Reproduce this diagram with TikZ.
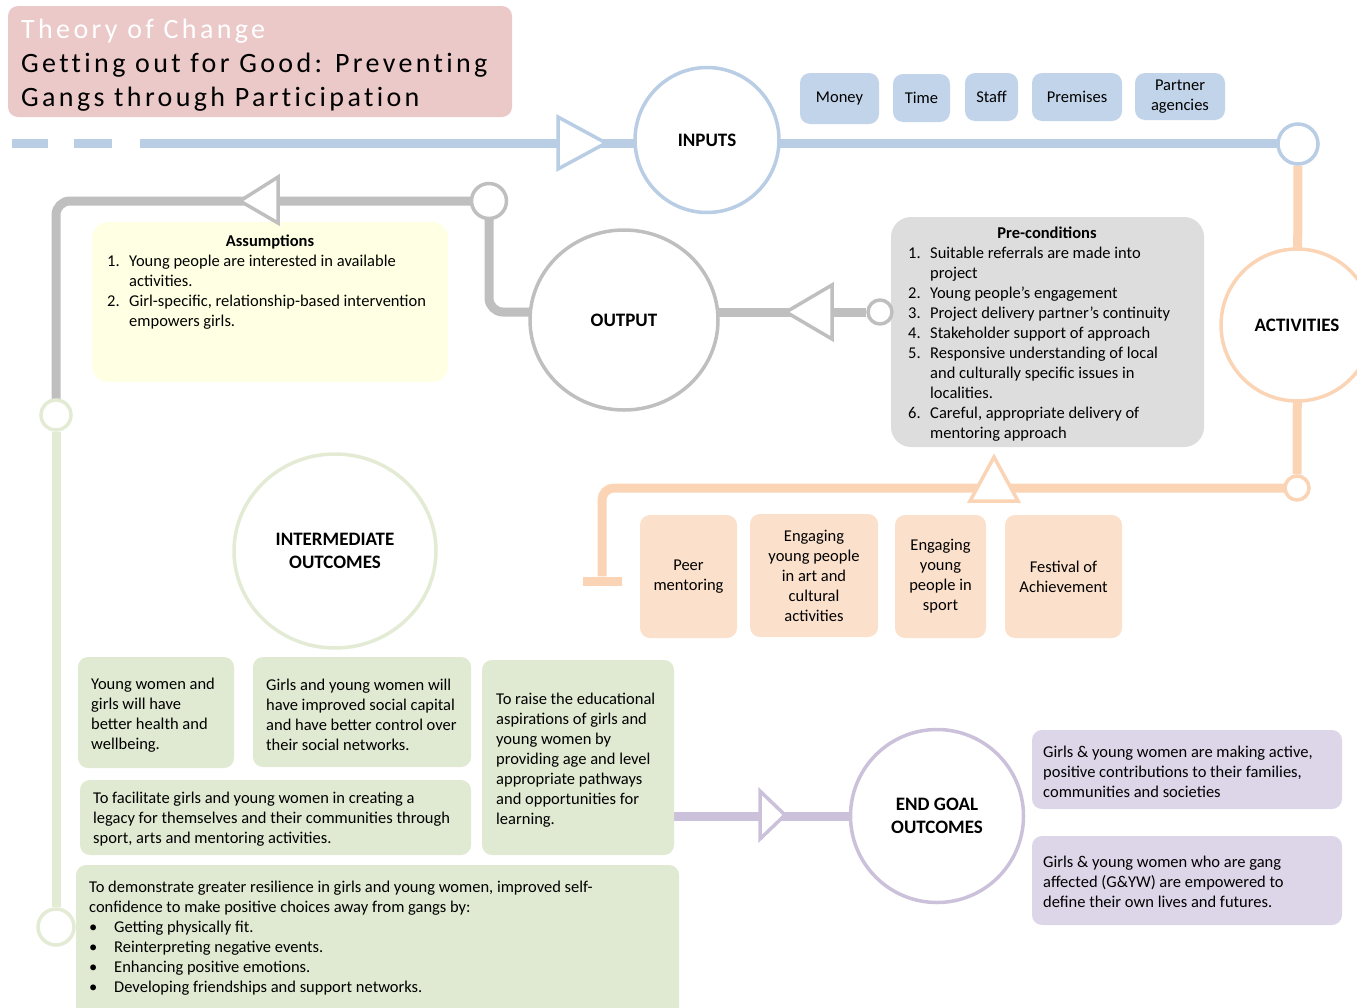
\documentclass[tikz,border=0pt]{standalone}
\usepackage{fontspec}
\setmainfont{Carlito}
\newfontfamily\titlefont[LetterSpace=12, Ligatures=NoCommon]{Carlito}
\usetikzlibrary{shapes.geometric}
\pgfdeclarelayer{background}
\pgfsetlayers{background,main}

\definecolor{tocpink}{HTML}{ECC9C9}
\definecolor{inblue}{HTML}{B9CDE5}
\definecolor{inboxblue}{HTML}{C2D4EA}
\definecolor{outgray}{HTML}{BFBFBF}
\definecolor{pregray}{HTML}{DDDDDD}
\definecolor{assumeyel}{HTML}{FFFFE3}
\definecolor{actpeach}{HTML}{FAD4B4}
\definecolor{actbox}{HTML}{FBE0CB}
\definecolor{midgreen}{HTML}{E3EBD5}
\definecolor{midbox}{HTML}{E0E9D1}
\definecolor{endpurple}{HTML}{CCC1DA}
\definecolor{endbox}{HTML}{DDD5E8}

\newcommand\itm[1]{\makebox[22pt][l]{#1}}
\newcommand\cont{\hspace*{22pt}}
\newcommand\bul{\makebox[25pt][l]{\textbullet}}

\tikzset{
  flow/.style={line width=9pt},
  ring/.style={ellipse, draw, line width=3.5pt, fill=white, inner sep=0pt,
    font=\fontsize{19}{23}\selectfont\bfseries, align=center},
  dot/.style={circle, draw, line width=3.5pt, fill=white, inner sep=0pt},
  arrowtri/.style={line width=3.5pt, fill=white, line join=miter},
  card/.style={rounded corners=10pt, inner sep=0pt, align=center,
    font=\fontsize{16.5}{20}\selectfont},
  body/.style={inner sep=0pt, align=left, font=\fontsize{16.5}{20}\selectfont},
}

\begin{document}
\begin{tikzpicture}[x=1pt,y=-1pt]
\useasboundingbox (0,0) rectangle (1357,1007);

% ---- title ----
\node[fill=tocpink, rounded corners=10pt, minimum width=504, minimum height=111, inner sep=0pt] (title) at (260,61.5) {};
\node[inner sep=0pt, align=left, anchor=west, font=\titlefont\fontsize{28}{34}\selectfont] (titletext) at (21,65)
  {\textcolor{white}{Theory of Change}\\Getting out for Good: Preventing\\Gangs through Participation};

% ---- inputs ----
\node[ring, draw=inblue, minimum width=144, minimum height=145] (inputs) at (707,140) {INPUTS};
\node[dot, draw=inblue, minimum size=40] (inR) at (1298,144) {};
\node[card, fill=inboxblue, minimum width=79, minimum height=51] (money) at (839.5,98.5) {Money};
\node[card, fill=inboxblue, minimum width=57, minimum height=48] (time) at (921.5,98) {Time};
\node[card, fill=inboxblue, minimum width=53, minimum height=48] (staff) at (991.5,97) {Staff};
\node[card, fill=inboxblue, minimum width=90, minimum height=48] (premises) at (1077,97) {Premises};
\node[card, fill=inboxblue, minimum width=90, minimum height=47] (partner) at (1180,96.5) {Partner\\agencies};
\coordinate (seg1a) at (12,143);  \coordinate (seg1b) at (48,143);
\coordinate (seg2a) at (74,143);  \coordinate (seg2b) at (112,143);
\coordinate (seg3a) at (140,143);

% ---- activities ----
\node[ring, draw=actpeach, minimum width=152, minimum height=152] (activities) at (1297,325) {ACTIVITIES};
\node[dot, draw=actpeach, minimum size=24] (actdot) at (1297,488) {};
\node[fill=actpeach, minimum width=39, minimum height=9, inner sep=0pt] (actbar) at (602,581) {};
\node[card, fill=actbox, minimum width=97, minimum height=123] (peer) at (688.5,576.5) {Peer\\mentoring};
\node[card, fill=actbox, minimum width=128, minimum height=123] (art) at (814,575.5) {Engaging\\young people\\in art and\\cultural\\activities};
\node[card, fill=actbox, minimum width=91, minimum height=123] (sport) at (940.5,576.5) {Engaging\\young\\people in\\sport};
\node[card, fill=actbox, minimum width=117, minimum height=123] (festival) at (1063.5,576.5) {Festival of\\Achievement};

% ---- pre-conditions ----
\node[card, fill=pregray, rounded corners=20pt, minimum width=313, minimum height=230] (precond) at (1047.5,332) {};
\node[body, font=\fontsize{16.5}{20}\selectfont\bfseries] (pretitle) at (1047,233) {Pre-conditions};
\node[body, anchor=west] (prelist) at (908,344)
  {\itm{1.}Suitable referrals are made into\\
   \cont project\\
   \itm{2.}Young people’s engagement\\
   \itm{3.}Project delivery partner’s continuity\\
   \itm{4.}Stakeholder support of approach\\
   \itm{5.}Responsive understanding of local\\
   \cont and culturally specific issues in\\
   \cont localities.\\
   \itm{6.}Careful, appropriate delivery of\\
   \cont mentoring approach};

% ---- output ----
\node[ring, draw=outgray, minimum width=188, minimum height=180] (output) at (624,320) {OUTPUT};
\node[dot, draw=outgray, minimum size=24] (outdot) at (880,312) {};
\node[dot, draw=outgray, minimum size=35] (asmdot) at (489,201) {};

% ---- assumptions ----
\node[card, fill=assumeyel, rounded corners=16pt, minimum width=356, minimum height=160] (assume) at (270,302) {};
\node[body, font=\fontsize{16.5}{20}\selectfont\bfseries] (asmtitle) at (270,242) {Assumptions};
\node[body, anchor=west] (asmlist) at (107,292)
  {\itm{1.}Young people are interested in available\\
   \cont activities.\\
   \itm{2.}Girl-specific, relationship-based intervention\\
   \cont empowers girls.};

% ---- intermediate outcomes ----
\node[dot, draw=midgreen, minimum size=30] (midtop) at (56,415) {};
\node[dot, draw=midgreen, minimum size=36] (midbot) at (56,927) {};
\node[ring, draw=midgreen, minimum width=202, minimum height=194] (intermediate) at (335,551) {INTERMEDIATE\\OUTCOMES};
\node[card, fill=midbox, minimum width=156, minimum height=111] (midA) at (156,712.5) {};
\node[body, anchor=west] (midAtext) at (91,715)
  {Young women and\\girls will have\\better health and\\wellbeing.};
\node[card, fill=midbox, minimum width=218, minimum height=110] (midB) at (362,712) {};
\node[body, anchor=west] (midBtext) at (266,715)
  {Girls and young women will\\have improved social capital\\and have better control over\\their social networks.};
\node[card, fill=midbox, minimum width=192, minimum height=195] (midC) at (578,757.5) {};
\node[body, anchor=west] (midCtext) at (496,760)
  {To raise the educational\\aspirations of girls and\\young women by\\providing age and level\\appropriate pathways\\and opportunities for\\learning.};
\node[card, fill=midbox, minimum width=391, minimum height=75] (midD) at (275.5,817.5) {};
\node[body, anchor=west] (midDtext) at (93,819)
  {To facilitate girls and young women in creating a\\legacy for themselves and their communities through\\sport, arts and mentoring activities.};
\node[card, fill=midbox, minimum width=603, minimum height=165] (midE) at (377.5,947.5) {};
\node[body, anchor=west] (midEtext) at (89,938)
  {To demonstrate greater resilience in girls and young women, improved self-\\
   confidence to make positive choices away from gangs by:\\
   \bul Getting physically fit.\\
   \bul Reinterpreting negative events.\\
   \bul Enhancing positive emotions.\\
   \bul Developing friendships and support networks.};

% ---- end goal outcomes ----
\node[ring, draw=endpurple, minimum width=173, minimum height=173] (endgoal) at (937,816) {END GOAL\\OUTCOMES};
\node[card, fill=endbox, minimum width=310, minimum height=79] (endA) at (1187,769.5) {};
\node[body, anchor=west] (endAtext) at (1043,772)
  {Girls \& young women are making active,\\positive contributions to their families,\\communities and societies};
\node[card, fill=endbox, minimum width=310, minimum height=89] (endB) at (1187,880.5) {};
\node[body, anchor=west] (endBtext) at (1043,882)
  {Girls \& young women who are gang\\affected (G\&YW) are empowered to\\define their own lives and futures.};

% ---- connectors ----
\begin{pgfonlayer}{background}
  \draw[flow, inblue] (seg1a) -- (seg1b);
  \draw[flow, inblue] (seg2a) -- (seg2b);
  \draw[flow, inblue] (seg3a) -- (inputs.center |- seg3a) -- (inR.center |- seg3a);
  \draw[flow, actpeach] (inR) -- (actdot);
  \draw[flow, actpeach, rounded corners=12pt] (actdot.center) -- (actbar.center |- actdot.center) -- (actbar.north);
  \draw[flow, outgray] (outdot) -- (output.center |- outdot);
  \draw[flow, outgray, rounded corners=14pt] (output.center |- outdot) -- (asmdot.center |- outdot) -- (asmdot.center);
  \draw[flow, outgray, rounded corners=14pt] (asmdot.center) -- (midtop.center |- asmdot.center) -- (midtop.center);
  \draw[flow, midgreen] (midtop) -- (midbot);
  \draw[flow, endpurple] (midC.east |- endgoal) -- (endgoal);
\end{pgfonlayer}

% ---- direction markers ----
\draw[arrowtri, draw=inblue] (558,117) -- (606,143) -- (558,169) -- cycle;
\draw[arrowtri, draw=outgray] (832,285) -- (786,312) -- (832,339) -- cycle;
\draw[arrowtri, draw=outgray] (278,177) -- (240,201) -- (278,223) -- cycle;
\draw[arrowtri, draw=actpeach] (970,501) -- (994,457) -- (1018,501) -- cycle;
\draw[arrowtri, draw=endpurple] (760,791) -- (785,815) -- (760,839) -- cycle;
\end{tikzpicture}
\end{document}
